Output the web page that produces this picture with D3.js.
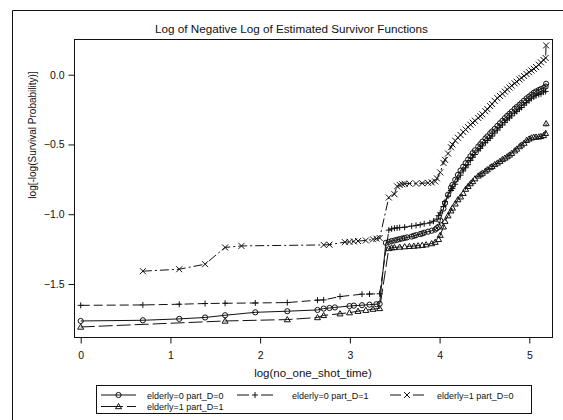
<!DOCTYPE html>
<html>
<head>
<meta charset="utf-8">
<script src="https://cdn.jsdelivr.net/npm/d3@7"></script>
<style>
  html, body { margin: 0; padding: 0; background: #fff; }
  svg { display: block; font-family: Arial, "Liberation Sans", sans-serif; }
</style>
</head>
<body>
<svg id="chart" width="563" height="420"></svg>
<script>
// Event times (no_one_shot_time) and log[-log(S(t))] for each stratum
const timesA = [1,2,3,4,5,7,10,14,15,16,17,20,21,23,25,27,28,30,31,32,33,34,35,36,37,38,40,41,42,44,45,46,48,50,52,53,54,
  55,57,58,60,62,63,65,67,69,71,73,75,77,79,81,84,86,88,91,93,96,98,101,104,107,110,113,116,119,122,126,129,133,136,140,144,148,152,156,160,165,169,174,178,179];
const valuesA = [-1.765,-1.760,-1.750,-1.740,-1.724,-1.703,-1.695,-1.686,-1.676,-1.672,-1.668,-1.658,-1.655,-1.652,-1.648,-1.645,-1.642,
  -1.205,-1.198,-1.192,-1.188,-1.183,-1.178,-1.174,-1.170,-1.166,-1.160,-1.155,-1.150,-1.142,-1.138,-1.132,-1.125,-1.118,-1.110,-1.100,-1.090,
  -1.045,-0.960,-0.920,-0.860,-0.810,-0.790,-0.753,-0.718,-0.687,-0.660,-0.634,-0.609,-0.585,-0.562,-0.542,-0.515,-0.498,-0.480,-0.457,-0.442,
  -0.420,-0.407,-0.388,-0.367,-0.348,-0.330,-0.312,-0.295,-0.280,-0.265,-0.245,-0.232,-0.216,-0.203,-0.186,-0.170,-0.157,-0.143,-0.130,-0.120,
  -0.110,-0.103,-0.095,-0.085,-0.065];

const timesB = [1,2,3,4,5,7,10,14,15,18,23,25,28,31,32,33,34,35,37,40,42,44,46,49,51,53,54,
  55,57,58,60,62,63,65,67,69,71,73,75,77,79,81,84,86,88,91,93,96,98,101,104,107,110,113,116,119,122,126,129,133,136,140,144,148,152,156,160,165,169,174,178];
const valuesB = [-1.653,-1.650,-1.645,-1.640,-1.638,-1.636,-1.633,-1.616,-1.614,-1.590,-1.573,-1.572,-1.570,
  -1.114,-1.105,-1.100,-1.098,-1.096,-1.093,-1.085,-1.080,-1.075,-1.068,-1.062,-1.050,-1.035,-1.010,
  -0.990,-0.945,-0.910,-0.870,-0.830,-0.815,-0.785,-0.748,-0.720,-0.690,-0.667,-0.645,-0.615,-0.592,-0.572,-0.545,-0.528,-0.510,-0.487,-0.472,
  -0.455,-0.440,-0.418,-0.397,-0.377,-0.360,-0.342,-0.324,-0.310,-0.295,-0.275,-0.263,-0.247,-0.235,-0.218,-0.200,-0.186,-0.170,-0.160,-0.150,
  -0.142,-0.137,-0.125,-0.120];

const timesC = [2,3,4,5,6,15,16,19,20,21,22,24,26,27,28,31,33,34,35,36,37,39,42,45,48,50,52,53,
  55,57,58,60,62,63,65,67,69,71,73,75,77,79,81,84,86,88,91,93,96,98,101,104,107,110,113,116,119,122,126,129,133,136,140,144,148,152,156,160,165,169,174,178,179];
const valuesC = [-1.408,-1.394,-1.358,-1.238,-1.227,-1.220,-1.218,-1.200,-1.198,-1.195,-1.192,-1.188,-1.180,-1.175,-1.170,
  -0.880,-0.856,-0.800,-0.790,-0.785,-0.782,-0.780,-0.780,-0.778,-0.775,-0.772,-0.765,-0.743,
  -0.700,-0.632,-0.610,-0.565,-0.520,-0.500,-0.473,-0.452,-0.432,-0.410,-0.393,-0.376,-0.358,-0.344,-0.330,-0.310,-0.297,-0.284,-0.262,-0.247,
  -0.225,-0.210,-0.188,-0.168,-0.152,-0.137,-0.121,-0.106,-0.092,-0.078,-0.062,-0.050,-0.034,-0.023,-0.009,0.005,0.018,0.030,0.042,0.055,
  0.072,0.088,0.105,0.120,0.210];

const timesD = [1,5,10,14,15,18,20,22,24,26,28,31,32,33,35,37,39,41,43,45,47,50,52,54,
  55,57,58,60,62,63,65,67,69,71,73,75,77,79,81,84,86,88,91,93,96,98,101,104,107,110,113,116,119,122,126,129,133,136,140,144,148,152,156,160,165,169,174,178,179];
const valuesD = [-1.808,-1.765,-1.755,-1.740,-1.725,-1.713,-1.705,-1.695,-1.688,-1.680,-1.675,
  -1.245,-1.240,-1.238,-1.235,-1.232,-1.230,-1.228,-1.225,-1.222,-1.218,-1.210,-1.200,-1.180,
  -1.150,-1.090,-1.050,-1.010,-0.975,-0.955,-0.925,-0.895,-0.875,-0.850,-0.820,-0.800,-0.780,-0.765,-0.745,-0.725,-0.715,-0.705,-0.690,-0.680,
  -0.665,-0.657,-0.643,-0.632,-0.620,-0.607,-0.597,-0.587,-0.575,-0.563,-0.545,-0.532,-0.515,-0.503,-0.490,-0.470,-0.460,-0.452,-0.447,-0.446,
  -0.445,-0.442,-0.435,-0.420,-0.350];

const seriesNames = ["elderly=0 part_D=0", "elderly=0 part_D=1", "elderly=1 part_D=0", "elderly=1 part_D=1"];
const xTicks = [0, 1, 2, 3, 4, 5];
const yTicks = [0.0, -0.5, -1.0, -1.5];

const titleText = "Log of Negative Log of Estimated Survivor Functions";
const xTitle = "log(no_one_shot_time)";
const yTitle = "log[-log(Survival Probability)]";

// ---- layout ----
const svg = d3.select("#chart");
const plot = { left: 74.5, right: 552.5, top: 39.5, bottom: 337.5 };
const x = d3.scaleLinear().domain([0, 5]).range([80.7, 529.3]);
const y = d3.scaleLinear().domain([-1.5, 0]).range([284, 74.7]);
const ink = "#111";

const series = [
  { name: seriesNames[0], t: timesA, v: valuesA, dash: null,      legendDash: null,    marker: "circle" },
  { name: seriesNames[1], t: timesB, v: valuesB, dash: "9,4",     legendDash: "12,12", marker: "plus" },
  { name: seriesNames[2], t: timesC, v: valuesC, dash: "9,3,2,3", legendDash: "11,12", marker: "cross" },
  { name: seriesNames[3], t: timesD, v: valuesD, dash: "14,4",    legendDash: "22,4",  marker: "triangle" }
];

// outer frame
svg.append("path")
  .attr("d", "M12.5,420 L12.5,10.5 L563,10.5")
  .attr("fill", "none").attr("stroke", ink).attr("stroke-width", 1);

// title
svg.append("text")
  .attr("x", 291.5).attr("y", 32.5)
  .attr("text-anchor", "middle")
  .attr("font-size", 11.7).attr("fill", ink)
  .text(titleText);

// plot clip
svg.append("clipPath").attr("id", "plotClip")
  .append("rect")
  .attr("x", plot.left).attr("y", plot.top)
  .attr("width", plot.right - plot.left).attr("height", plot.bottom - plot.top);

// markers
function drawMarker(g, type, cx, cy) {
  const s = 3;
  if (type === "circle") {
    g.append("circle").attr("cx", cx).attr("cy", cy).attr("r", 2.6)
      .attr("fill", "none").attr("stroke", ink).attr("stroke-width", 1);
  } else if (type === "plus") {
    g.append("path")
      .attr("d", `M${cx - s},${cy}H${cx + s}M${cx},${cy - s}V${cy + s}`)
      .attr("stroke", ink).attr("stroke-width", 1);
  } else if (type === "cross") {
    g.append("path")
      .attr("d", `M${cx - s},${cy - s}L${cx + s},${cy + s}M${cx - s},${cy + s}L${cx + s},${cy - s}`)
      .attr("stroke", ink).attr("stroke-width", 1);
  } else if (type === "triangle") {
    g.append("path")
      .attr("d", `M${cx},${cy - 3}L${cx + 3},${cy + 2.2}L${cx - 3},${cy + 2.2}Z`)
      .attr("fill", "none").attr("stroke", ink).attr("stroke-width", 1);
  }
}

const plotG = svg.append("g").attr("clip-path", "url(#plotClip)");
const line = d3.line().x(d => x(Math.log(d[0]))).y(d => y(d[1]));

series.forEach(s => {
  const pts = s.t.map((t, i) => [t, s.v[i]]);
  plotG.append("path")
    .datum(pts)
    .attr("d", line)
    .attr("fill", "none")
    .attr("stroke", ink)
    .attr("stroke-width", 1)
    .attr("stroke-dasharray", s.dash);
  const mg = plotG.append("g");
  pts.forEach(p => drawMarker(mg, s.marker, x(Math.log(p[0])), y(p[1])));
});

// plot frame
svg.append("rect")
  .attr("x", plot.left).attr("y", plot.top)
  .attr("width", plot.right - plot.left).attr("height", plot.bottom - plot.top)
  .attr("fill", "none").attr("stroke", ink).attr("stroke-width", 1);

// x axis
const xAxis = d3.axisBottom(x).tickValues(xTicks).tickFormat(d3.format("d"))
  .tickSize(6).tickSizeOuter(0);
const gx = svg.append("g").attr("transform", `translate(0,${plot.bottom})`).call(xAxis);
gx.select(".domain").remove();
gx.selectAll("line").attr("stroke", ink);
gx.selectAll("text").attr("font-size", 10.5).attr("fill", ink)
  .attr("font-family", "Arial, 'Liberation Sans', sans-serif").attr("dy", "1.15em");

// y axis
const yAxis = d3.axisLeft(y).tickValues(yTicks).tickFormat(d3.format(".1f"))
  .tickSize(6).tickSizeOuter(0);
const gy = svg.append("g").attr("transform", `translate(${plot.left},0)`).call(yAxis);
gy.select(".domain").remove();
gy.selectAll("line").attr("stroke", ink);
gy.selectAll("text").attr("font-size", 10.5).attr("fill", ink)
  .attr("font-family", "Arial, 'Liberation Sans', sans-serif").attr("x", -10);

// axis titles
svg.append("text")
  .attr("x", 313).attr("y", 377)
  .attr("text-anchor", "middle").attr("font-size", 11.5).attr("fill", ink)
  .text(xTitle);
svg.append("text")
  .attr("transform", "translate(36,135) rotate(-90)")
  .attr("text-anchor", "middle").attr("font-size", 10).attr("fill", ink)
  .text(yTitle);

// legend
const legend = svg.append("g");
legend.append("rect")
  .attr("x", 96.5).attr("y", 385.5).attr("width", 435).attr("height", 28)
  .attr("fill", "none").attr("stroke", ink).attr("stroke-width", 1);
const legendPos = [
  { x0: 101, x1: 136, tx: 147, y: 395 },
  { x0: 237, x1: 273, tx: 292, y: 395 },
  { x0: 390, x1: 424, tx: 437, y: 395 },
  { x0: 101, x1: 136, tx: 147, y: 406.5 }
];
series.forEach((s, i) => {
  const p = legendPos[i];
  legend.append("line")
    .attr("x1", p.x0).attr("x2", p.x1).attr("y1", p.y).attr("y2", p.y)
    .attr("stroke", ink).attr("stroke-width", 1)
    .attr("stroke-dasharray", s.legendDash);
  drawMarker(legend, s.marker, (p.x0 + p.x1) / 2, p.y);
  legend.append("text")
    .attr("x", p.tx).attr("y", p.y + 3.5)
    .attr("font-size", 9).attr("fill", ink)
    .text(s.name);
});
</script>
</body>
</html>
